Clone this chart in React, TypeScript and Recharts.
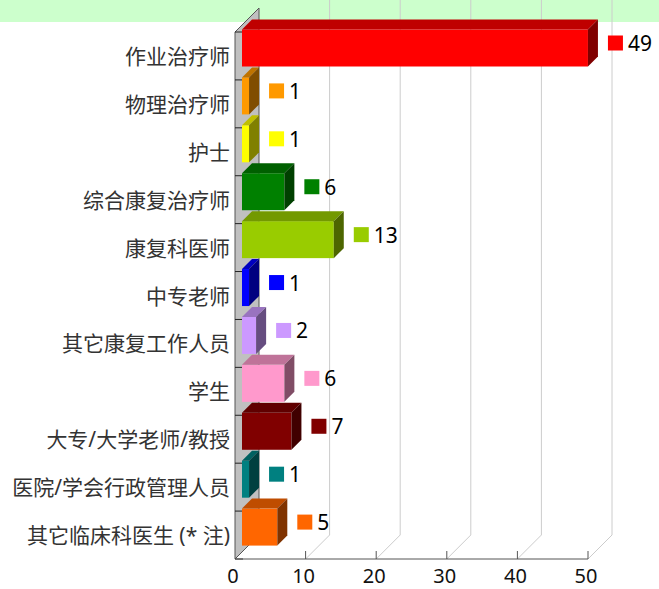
import React from 'react';
import { BarChart, Bar, XAxis, YAxis, CartesianGrid, Cell } from 'recharts';

const categories = [
  '作业治疗师',
  '物理治疗师',
  '护士',
  '综合康复治疗师',
  '康复科医师',
  '中专老师',
  '其它康复工作人员',
  '学生',
  '大专/大学老师/教授',
  '医院/学会行政管理人员',
  '其它临床科医生 (* 注)',
];
const counts = [49, 1, 1, 6, 13, 1, 2, 6, 7, 1, 5];
const colors = [
  '#FF0000', '#FF9900', '#FFFF00', '#008000', '#99CC00', '#0000FF',
  '#CC99FF', '#FF99CC', '#800000', '#008080', '#FF6600',
];
const xTicks = [0, 10, 20, 30, 40, 50];

const data = categories.map((name, i) => ({ name, count: counts[i] }));

const FONT = "'Noto Sans', 'Noto Sans CJK SC', sans-serif";
const DEPTH = 24; // wall depth
const SHIFT = 7; // bar front-face offset
const BAR_DEPTH = 10;

// darken a hex colour
const shade = (hex: string, k: number) => {
  const n = parseInt(hex.slice(1), 16);
  const r = Math.round(((n >> 16) & 255) * k);
  const g = Math.round(((n >> 8) & 255) * k);
  const b = Math.round((n & 255) * k);
  return `rgb(${r},${g},${b})`;
};

const GridLine = (props: any) => {
  const { x1, y1, y2, index } = props;
  if (index === 0) {
    const n = categories.length;
    const step = (y2 - y1) / n;
    return (
      <g>
        <polygon
          points={`${x1},${y1} ${x1 + DEPTH},${y1 - DEPTH} ${x1 + DEPTH},${y2 - DEPTH} ${x1},${y2}`}
          fill="#C0C0C0"
          stroke="#555"
          strokeWidth={1}
        />
        {Array.from({ length: n + 1 }, (_, i) => (
          <line key={i} x1={x1} y1={y1 + i * step} x2={x1 + 8} y2={y1 + i * step} stroke="#222" />
        ))}
      </g>
    );
  }
  return (
    <g>
      <line x1={x1} y1={y2} x2={x1 + DEPTH} y2={y2 - DEPTH} stroke="#ccc" />
      <line x1={x1 + DEPTH} y1={y2 - DEPTH} x2={x1 + DEPTH} y2={0} stroke="#ccc" />
      <line x1={x1} y1={y2 - 8} x2={x1} y2={y2} stroke="#555" />
    </g>
  );
};

const Bar3D = (props: any) => {
  const { x, y, width, height, fill, payload } = props;
  const fx = x + SHIFT;
  const fy = y - SHIFT - 0.5;
  const d = BAR_DEPTH;
  const cy = fy - d + (height + d) / 2;
  const sx = x + width + 27;
  return (
    <g>
      <rect x={fx} y={fy} width={width} height={height} fill={fill} />
      <polygon
        points={`${fx},${fy} ${fx + d},${fy - d} ${fx + width + d},${fy - d} ${fx + width},${fy}`}
        fill={shade(fill, 0.75)}
      />
      <polygon
        points={`${fx + width},${fy} ${fx + width + d},${fy - d} ${fx + width + d},${fy - d + height} ${fx + width},${fy + height}`}
        fill={shade(fill, 0.5)}
      />
      <rect x={sx} y={cy - 7.5} width={15} height={15} fill={fill} />
      <text x={sx + 20} y={cy} dominantBaseline="central" fontSize={21} fontFamily={FONT} fill="#000">
        {payload.count}
      </text>
    </g>
  );
};

const CategoryTick = (props: any) => {
  const { x, y, payload } = props;
  return (
    <text x={x} y={y} textAnchor="end" dominantBaseline="central" fontSize={21} fontFamily={FONT} fill="#333">
      {payload.value}
    </text>
  );
};

export default function App() {
  return (
    <div style={{ position: 'absolute', left: 0, top: 0, width: 659, height: 589, background: '#fff' }}>
      <div style={{ position: 'absolute', left: 0, top: 0, width: 659, height: 22, background: '#CCFFCC' }} />
      <div style={{ position: 'absolute', left: 0, top: 0 }}>
        <BarChart
          width={659}
          height={589}
          data={data}
          layout="vertical"
          margin={{ top: 32, right: 71, bottom: 0, left: 0 }}
          barSize={37}
        >
          <CartesianGrid horizontal={false} vertical={GridLine} />
          <XAxis
            type="number"
            domain={[0, 50]}
            ticks={xTicks}
            height={30}
            tickLine={false}
            tickSize={0}
            tickMargin={10}
            axisLine={{ stroke: '#555' }}
            tick={{ fontSize: 20, fontFamily: FONT, fill: '#111', dx: -2 }}
          />
          <YAxis
            type="category"
            dataKey="name"
            width={235}
            axisLine={false}
            tickLine={false}
            tickSize={0}
            tickMargin={5}
            interval={0}
            tick={<CategoryTick />}
          />
          <Bar dataKey="count" shape={<Bar3D />} isAnimationActive={false}>
            {data.map((_, i) => (
              <Cell key={i} fill={colors[i]} />
            ))}
          </Bar>
        </BarChart>
      </div>
    </div>
  );
}
